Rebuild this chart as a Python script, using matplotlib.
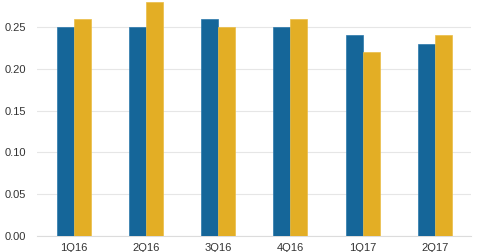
import numpy as np
import matplotlib
matplotlib.use('Agg')
import matplotlib.pyplot as plt

quarters = ['1Q16', '2Q16', '3Q16', '4Q16', '1Q17', '2Q17']
series_blue = [0.25, 0.25, 0.26, 0.25, 0.24, 0.23]
series_gold = [0.26, 0.28, 0.25, 0.26, 0.22, 0.24]
yticks = [0.00, 0.05, 0.10, 0.15, 0.20, 0.25]

plt.rcParams['font.family'] = ['Liberation Sans', 'DejaVu Sans']

fig = plt.figure(figsize=(4.8, 2.52), dpi=100)
ax = fig.add_axes([0.077, 0.0635, 0.904, 0.9365])

x = np.arange(len(quarters))
w = 0.236
ax.bar(x - w/2, series_blue, w, color='#156699', edgecolor='#2a78ab', linewidth=0.5, zorder=3)
ax.bar(x + w/2, series_gold, w, color='#e3ae25', edgecolor='#ebbd45', linewidth=0.5, zorder=3)

ax.set_xlim(-0.51, 5.5)
ax.set_ylim(0, 0.2823)
ax.set_yticks(yticks)
ax.set_yticklabels(['{:.2f}'.format(v) for v in yticks])
ax.set_xticks(x)
ax.set_xticklabels(quarters)
ax.yaxis.grid(True, color='#e6e6e6', linewidth=0.8, zorder=0)
for s in ['top', 'right', 'left']:
    ax.spines[s].set_visible(False)
ax.spines['bottom'].set_color('#dcdcdc')
ax.tick_params(axis='both', length=0, labelsize=8, colors='#333333')
ax.tick_params(axis='y', pad=8)
ax.tick_params(axis='x', pad=5)

fig.savefig('out.png', dpi=100)
